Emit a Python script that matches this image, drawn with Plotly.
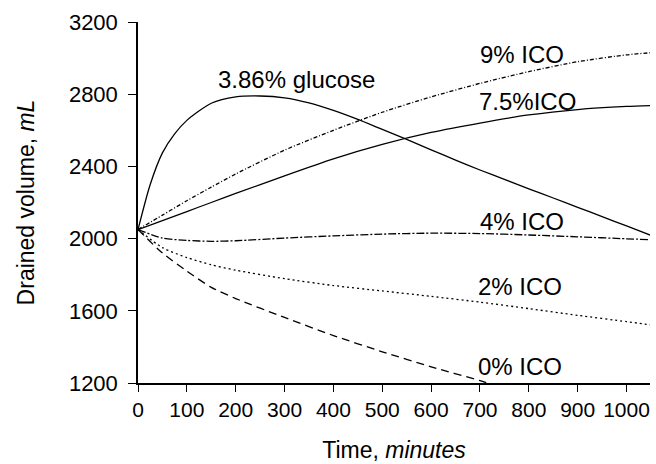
import plotly.graph_objects as go

# Drained volume over a long dwell for each dialysis solution
t_glucose = [0, 25, 50, 75, 100, 150, 200, 250, 300, 350, 400, 450, 500, 550,
             600, 650, 700, 750, 800, 850, 900, 950, 1000, 1050]
v_glucose = [2050, 2300, 2475, 2580, 2655, 2750, 2785, 2790, 2780, 2752, 2710,
             2660, 2605, 2550, 2492, 2435, 2380, 2328, 2276, 2225, 2173, 2122,
             2070, 2018]

t_ico = [0, 50, 100, 150, 200, 300, 400, 500, 600, 700, 800, 900, 1000, 1050]
v_ico9 = [2050, 2130, 2210, 2285, 2358, 2490, 2600, 2700, 2785, 2860, 2925,
          2980, 3018, 3030]
v_ico75 = [2050, 2100, 2150, 2200, 2250, 2348, 2442, 2522, 2588, 2640, 2685,
           2715, 2732, 2737]
v_ico4 = [2050, 2003, 1990, 1985, 1988, 2003, 2015, 2025, 2030, 2028, 2020,
          2010, 1999, 1994]
v_ico2 = [2050, 1950, 1895, 1855, 1825, 1778, 1740, 1710, 1680, 1648, 1612,
          1575, 1540, 1522]

t_ico0 = [0, 50, 100, 150, 200, 300, 400, 500, 600, 700, 715]
v_ico0 = [2050, 1920, 1820, 1730, 1668, 1563, 1463, 1373, 1290, 1213, 1200]

x_ticks = [0, 100, 200, 300, 400, 500, 600, 700, 800, 900, 1000]
y_ticks = [1200, 1600, 2000, 2400, 2800, 3200]

# label text and its anchor point in data units
labels = ["3.86% glucose", "9% ICO", "7.5%ICO", "4% ICO", "2% ICO", "0% ICO"]
label_x = [325, 785, 798, 785, 782, 782]
label_y = [2882, 3019, 2757, 2096, 1735, 1291]

FONT = "Liberation Sans, Arial, Helvetica, sans-serif"

series = [
    (t_glucose, v_glucose, "solid"),
    (t_ico, v_ico9, "4px,2px,1px,2px"),
    (t_ico, v_ico75, "solid"),
    (t_ico, v_ico4, "8px,2px,2px,2px"),
    (t_ico, v_ico2, "2px,3px"),
    (t_ico0, v_ico0, "8px,5px"),
]

fig = go.Figure()
for tx, vy, dash in series:
    fig.add_trace(go.Scatter(
        x=tx, y=vy, mode="lines",
        line=dict(color="black", width=1.3, dash=dash, shape="spline", smoothing=0.7),
        showlegend=False, hoverinfo="skip",
    ))

for text, lx, ly in zip(labels, label_x, label_y):
    fig.add_annotation(x=lx, y=ly, xref="x", yref="y", text=text, showarrow=False,
                       font=dict(family=FONT, size=24, color="black"),
                       xanchor="center", yanchor="middle")

fig.update_layout(
    width=656, height=464,
    margin=dict(l=138, r=6, t=22, b=81),
    paper_bgcolor="white", plot_bgcolor="white",
    font=dict(family=FONT, color="black"),
    showlegend=False,
)

fig.update_xaxes(
    range=[0, 1048], tickvals=x_ticks, ticktext=[str(v) for v in x_ticks],
    showline=True, linecolor="black", linewidth=1.5,
    ticks="outside", ticklen=7, tickwidth=1.3, tickcolor="black",
    showgrid=False, zeroline=False,
    tickfont=dict(family=FONT, size=21, color="black"),
    title=dict(text="Time, <i>minutes</i>", font=dict(family=FONT, size=23, color="black"),
               standoff=22),
)
fig.update_yaxes(
    range=[1200, 3200], tickvals=y_ticks, ticktext=[str(v) for v in y_ticks],
    showline=True, linecolor="black", linewidth=1.5,
    ticks="outside", ticklen=8, tickwidth=1.3, tickcolor="black",
    showgrid=False, zeroline=False,
    tickfont=dict(family=FONT, size=22, color="black"),
    ticklabelstandoff=6,
    title=dict(text="Drained volume, <i>mL</i>", font=dict(family=FONT, size=23, color="black"),
               standoff=28),
)

fig.write_html("out.html")
